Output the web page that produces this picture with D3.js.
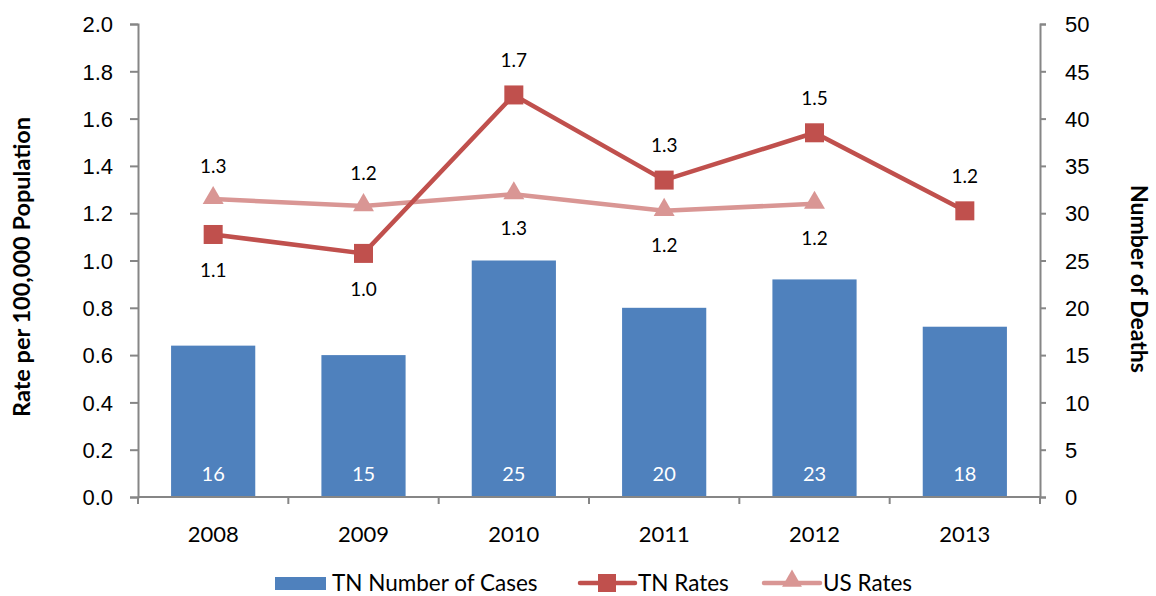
<!DOCTYPE html>
<html>
<head>
<meta charset="utf-8">
<script src="https://cdn.jsdelivr.net/npm/d3@7"></script>
<style>
  body { margin: 0; background: #fff; }
  svg { font-family: Lato, 'Open Sans', sans-serif; }
</style>
</head>
<body>
<div id="chart"></div>
<script>
// chart data
const years = ['2008', '2009', '2010', '2011', '2012', '2013']
const tnCases = [16, 15, 25, 20, 23, 18]
const tnRates = [1.11, 1.03, 1.70, 1.34, 1.54, 1.21]
const tnRateLabels = ['1.1', '1.0', '1.7', '1.3', '1.5', '1.2']
const tnLabelPos = ['below', 'below', 'above', 'above', 'above', 'above']
const usRates = [1.26, 1.23, 1.28, 1.21, 1.24]
const usRateLabels = ['1.3', '1.2', '1.3', '1.2', '1.2']
const usLabelPos = ['above', 'above', 'below', 'below', 'below']
const leftTicks = [0, 0.2, 0.4, 0.6, 0.8, 1.0, 1.2, 1.4, 1.6, 1.8, 2.0]
const rightTicks = [0, 5, 10, 15, 20, 25, 30, 35, 40, 45, 50]

const W = 1156
const H = 596
const M = { left: 138, right: 116, top: 24, bottom: 99 }
const innerW = W - M.left - M.right
const innerH = H - M.top - M.bottom

const BLUE = '#4F81BD'
const RED = '#C0504D'
const PINK = '#D99694'
const AXIS = '#868686'

const svg = d3.select('#chart').append('svg')
  .attr('width', W)
  .attr('height', H)

const g = svg.append('g').attr('transform', `translate(${M.left},${M.top})`)

const x = d3.scaleBand().domain(years).range([0, innerW]).paddingInner(0.44).paddingOuter(0.22)
const yL = d3.scaleLinear().domain([0, 2]).range([innerH, 0])
const yR = d3.scaleLinear().domain([0, 50]).range([innerH, 0])
const cx = d => x(d) + x.bandwidth() / 2

// bars (right axis)
g.selectAll('rect.bar')
  .data(years)
  .enter().append('rect')
  .attr('class', 'bar')
  .attr('x', d => x(d))
  .attr('width', x.bandwidth())
  .attr('y', (d, i) => yR(tnCases[i]))
  .attr('height', (d, i) => innerH - yR(tnCases[i]))
  .attr('fill', BLUE)

g.selectAll('text.barlabel')
  .data(years)
  .enter().append('text')
  .attr('x', d => cx(d))
  .attr('y', innerH - 16)
  .attr('text-anchor', 'middle')
  .attr('fill', '#fff')
  .style('font-size', '20px')
  .text((d, i) => tnCases[i])

// axes
const axisLeft = g.append('g').call(d3.axisLeft(yL).tickValues(leftTicks).tickFormat(d3.format('.1f')).tickSizeOuter(0).tickSize(8))
const axisRight = g.append('g').attr('transform', `translate(${innerW},0)`)
  .call(d3.axisRight(yR).tickValues(rightTicks).tickSizeOuter(0).tickSize(6))

// bottom axis, ticks sit between categories
const step = innerW / years.length
const axisBottom = g.append('g').attr('transform', `translate(0,${innerH})`)
axisBottom.append('line').attr('x1', 0).attr('x2', innerW).attr('stroke', AXIS).attr('stroke-width', 2)
axisBottom.selectAll('line.tk')
  .data(d3.range(years.length + 1))
  .enter().append('line')
  .attr('x1', i => i * step).attr('x2', i => i * step)
  .attr('y1', 0).attr('y2', 7)
  .attr('stroke', AXIS).attr('stroke-width', 2)
axisBottom.selectAll('text')
  .data(years)
  .enter().append('text')
  .attr('x', d => cx(d))
  .attr('y', 45)
  .attr('text-anchor', 'middle')
  .attr('fill', '#000')
  .style('font-size', '22px')
  .text(d => d)

;[axisLeft, axisRight].forEach(a => {
  a.select('.domain').attr('stroke', AXIS).attr('stroke-width', 2)
  a.selectAll('.tick line').attr('stroke', AXIS).attr('stroke-width', 2)
  a.selectAll('.tick text').attr('fill', '#000').style('font-size', '22px').attr('dy', '0.35em')
})
axisLeft.selectAll('.tick text').attr('x', -25)
axisRight.selectAll('.tick text').attr('x', 25)

// axis titles
svg.append('text')
  .attr('transform', 'translate(30,267) rotate(-90)')
  .attr('text-anchor', 'middle')
  .style('font-size', '23.5px')
  .style('font-weight', 'bold')
  .text('Rate per 100,000 Population')

svg.append('text')
  .attr('transform', 'translate(1131,279) rotate(90)')
  .attr('text-anchor', 'middle')
  .style('font-size', '23px')
  .style('font-weight', 'bold')
  .text('Number of Deaths')

// lines (left axis)
const line = d3.line().x(d => cx(d.year)).y(d => yL(d.v))
const usData = usRates.map((v, i) => ({ year: years[i], v }))
const tnData = tnRates.map((v, i) => ({ year: years[i], v }))

g.append('path').datum(usData).attr('d', line)
  .attr('fill', 'none').attr('stroke', PINK).attr('stroke-width', 4.5)
g.append('path').datum(tnData).attr('d', line)
  .attr('fill', 'none').attr('stroke', RED).attr('stroke-width', 4.5)

const tri = d3.symbol().type(d3.symbolTriangle).size(190)
g.selectAll('path.us')
  .data(usData)
  .enter().append('path')
  .attr('transform', d => `translate(${cx(d.year)},${yL(d.v) - 1})`)
  .attr('d', tri)
  .attr('fill', PINK)

g.selectAll('rect.tn')
  .data(tnData)
  .enter().append('rect')
  .attr('x', d => cx(d.year) - 9.5)
  .attr('y', d => yL(d.v) - 9.5)
  .attr('width', 19).attr('height', 19)
  .attr('fill', RED)

// point labels
g.selectAll('text.tnl')
  .data(tnData)
  .enter().append('text')
  .attr('x', d => cx(d.year))
  .attr('y', (d, i) => yL(d.v) + (tnLabelPos[i] === 'above' ? -28 : 43))
  .attr('text-anchor', 'middle')
  .style('font-size', '19px')
  .text((d, i) => tnRateLabels[i])

g.selectAll('text.usl')
  .data(usData)
  .enter().append('text')
  .attr('x', d => cx(d.year))
  .attr('y', (d, i) => yL(d.v) + (usLabelPos[i] === 'above' ? -26 : 41))
  .attr('text-anchor', 'middle')
  .style('font-size', '19px')
  .text((d, i) => usRateLabels[i])

// legend
const lg = svg.append('g').attr('transform', 'translate(0,583)')
lg.append('rect').attr('x', 275).attr('y', -6).attr('width', 51).attr('height', 13).attr('fill', BLUE)
lg.append('text').attr('x', 332).attr('y', 0).attr('dy', '0.35em').style('font-size', '22.5px').text('TN Number of Cases')

lg.append('line').attr('x1', 580).attr('x2', 635).attr('stroke', RED).attr('stroke-width', 4.5).attr('stroke-linecap', 'round')
lg.append('rect').attr('x', 598).attr('y', -9).attr('width', 18).attr('height', 18).attr('fill', RED)
lg.append('text').attr('x', 638).attr('y', 0).attr('dy', '0.35em').style('font-size', '22.5px').text('TN Rates')

lg.append('line').attr('x1', 764).attr('x2', 820).attr('stroke', PINK).attr('stroke-width', 4.5).attr('stroke-linecap', 'round')
lg.append('path').attr('transform', 'translate(792,-2)').attr('d', d3.symbol().type(d3.symbolTriangle).size(170)).attr('fill', PINK)
lg.append('text').attr('x', 823).attr('y', 0).attr('dy', '0.35em').style('font-size', '22.5px').text('US Rates')
</script>
</body>
</html>
